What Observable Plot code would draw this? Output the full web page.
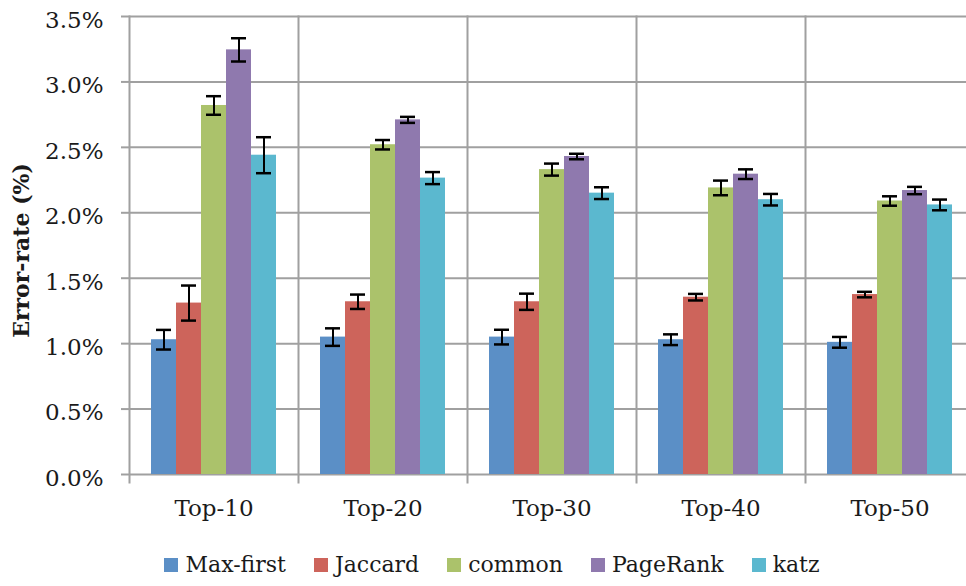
<!DOCTYPE html>
<html><head><meta charset="utf-8">
<script src="https://cdn.jsdelivr.net/npm/d3@7"></script>
<script src="https://cdn.jsdelivr.net/npm/@observablehq/plot@0.6"></script>
<style>
html,body{margin:0;padding:0;background:#fff;overflow:hidden;width:966px;height:586px}
#chart{position:relative;width:984px;height:586px}
#chart svg{max-width:none}
#legend{position:absolute;left:0;top:552px;width:984px;display:flex;justify-content:center;gap:28px;font-family:"DejaVu Serif";font-size:22px;color:#1a1a1a}
.item{display:flex;align-items:center;gap:7px}
.sw{width:14px;height:14px}
</style></head><body><div id="chart"></div>
<script>
const groups = ["Top-10","Top-20","Top-30","Top-40","Top-50"];
const methods = ["Max-first","Jaccard","common","PageRank","katz"];
const colors = ["#5b8fc6","#cd645b","#abc26b","#8f79ae","#5bb8cf"];
const maxFirst = [1.03,1.05,1.05,1.03,1.01];
const jaccard = [1.31,1.32,1.32,1.355,1.375];
const common = [2.82,2.52,2.33,2.19,2.09];
const pageRank = [3.245,2.71,2.43,2.295,2.17];
const katz = [2.44,2.265,2.15,2.10,2.06];
const maxFirstErr = [0.075,0.067,0.056,0.041,0.041];
const jaccardErr = [0.134,0.055,0.062,0.025,0.021];
const commonErr = [0.071,0.036,0.046,0.056,0.036];
const pageRankErr = [0.089,0.023,0.021,0.037,0.028];
const katzErr = [0.1375,0.046,0.045,0.044,0.041];
const yTicks = [0,0.5,1,1.5,2,2.5,3,3.5];

const series = [maxFirst, jaccard, common, pageRank, katz];
const errs = [maxFirstErr, jaccardErr, commonErr, pageRankErr, katzErr];
const data = [];
groups.forEach((g, gi) => methods.forEach((m, mi) => {
  data.push({group: g, method: m, value: series[mi][gi], err: errs[mi][gi]});
}));

const grid = "#a0a0a0";
const plot = Plot.plot({
  width: 984, height: 550,
  marginLeft: 128, marginRight: 9, marginTop: 16, marginBottom: 76,
  style: {fontFamily: "DejaVu Serif", fontSize: "23px", color: "#1a1a1a", background: "transparent", overflow: "visible"},
  fx: {domain: groups, padding: 0, label: null},
  x: {domain: methods, paddingInner: 0, paddingOuter: 0.76, axis: null},
  y: {domain: [0, 3.5], axis: null},
  color: {domain: methods, range: colors},
  marks: [
    Plot.gridY(yTicks, {stroke: grid, strokeOpacity: 1, strokeWidth: 2}),
    Plot.frame({anchor: "left", stroke: grid, strokeWidth: 2, insetBottom: -8}),
    Plot.barY(data, {fx: "group", x: "method", y: "value", fill: "method"}),
    Plot.ruleX(data, {fx: "group", x: "method", y1: d => d.value - d.err, y2: d => d.value + d.err, stroke: "black", strokeWidth: 2}),
    Plot.tickY(data, {fx: "group", x: "method", y: d => d.value - d.err, stroke: "black", strokeWidth: 2.5, insetLeft: 5, insetRight: 5}),
    Plot.tickY(data, {fx: "group", x: "method", y: d => d.value + d.err, stroke: "black", strokeWidth: 2.5, insetLeft: 5, insetRight: 5}),
    Plot.axisY({ticks: yTicks, text: null, tickSize: 8, stroke: grid, strokeWidth: 2, label: null}),
    Plot.axisY({ticks: yTicks, tickSize: 0, tickPadding: 26, dy: 4, tickFormat: d => d.toFixed(1) + "%", label: null, fontSize: 23}),
    Plot.axisFx({anchor: "bottom", tickSize: 0, tickPadding: 25, label: null, fontSize: 23}),
    Plot.text(["Error-rate (%)"], {fx: ["Top-10"], frameAnchor: "left", textAnchor: "middle", dx: -108, dy: 5, rotate: -90, fontWeight: "bold", fontSize: 22})
  ]
});
const chart = document.getElementById("chart");
chart.appendChild(plot);
const legend = document.createElement("div");
legend.id = "legend";
methods.forEach((m, i) => {
  const it = document.createElement("div");
  it.className = "item";
  const sw = document.createElement("div");
  sw.className = "sw";
  sw.style.background = colors[i];
  const t = document.createElement("span");
  t.textContent = m;
  it.appendChild(sw); it.appendChild(t);
  legend.appendChild(it);
});
chart.appendChild(legend);
</script></body></html>
